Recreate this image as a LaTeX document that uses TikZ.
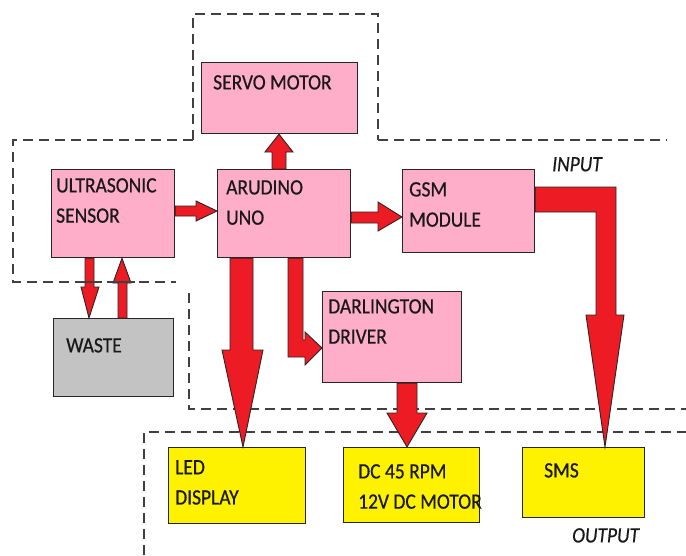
\documentclass[tikz,border=0pt]{standalone}
\usepackage{fontspec}
\setmainfont{Carlito}[FakeBold=0.6]
\definecolor{bpink}{HTML}{FFAEC9}
\definecolor{bred}{HTML}{ED1C24}
\definecolor{byel}{HTML}{FFF200}
\definecolor{bgray}{HTML}{C3C3C3}
\begin{document}
\begin{tikzpicture}[x=1pt,y=-1pt,
 blk/.style={draw=black!85, line width=1.2pt, anchor=north west, inner sep=0pt},
 lbl/.style={anchor=north west, inner sep=0pt, align=left, font=\fontsize{19.5}{27}\selectfont, text=black!90, yscale=1.12, transform shape},
 fat/.style={fill=bred, draw=black!85, line width=0.9pt, line join=miter},
 frame/.style={dash pattern=on 10pt off 6pt, line width=1.2pt, draw=black!75}]
\useasboundingbox (0,0) rectangle (686,555);

% dashed frames
\draw[frame] (193,140) -- (193,14) -- (378,14) -- (378,140);
\draw[frame] (193,140) -- (13,140) -- (13,282) -- (176,282);
\draw[frame] (378,140) -- (667,140);
\draw[frame] (189,293) -- (189,409) -- (686,409);
\draw[frame] (144,555) -- (144,432) -- (686,432);

% blocks
\node[blk, fill=bpink, minimum width=156pt, minimum height=71pt] (servo) at (201,62) {};
\node[blk, fill=bpink, minimum width=123pt, minimum height=88pt] (us) at (51,169) {};
\node[blk, fill=bpink, minimum width=133pt, minimum height=88pt] (uno) at (217,169) {};
\node[blk, fill=bpink, minimum width=132pt, minimum height=83pt] (gsm) at (402,169) {};
\node[blk, fill=bgray, minimum width=120pt, minimum height=78pt] (waste) at (53,318) {};
\node[blk, fill=bpink, minimum width=139pt, minimum height=91pt] (drv) at (322,291) {};
\node[blk, fill=byel, minimum width=137pt, minimum height=76pt] (led) at (168,447) {};
\node[blk, fill=byel, minimum width=136pt, minimum height=75pt] (dcm) at (343,447) {};
\node[blk, fill=byel, minimum width=122pt, minimum height=70pt] (sms) at (522,447) {};

% labels
\node[lbl] (tservo) at (213,75) {SERVO MOTOR};
\node[lbl] (tus) at (56,178) {ULTRASONIC\\SENSOR};
\node[lbl] (tuno) at (226,180) {ARUDINO\\UNO};
\node[lbl] (tgsm) at (409,182) {GSM\\MODULE};
\node[lbl] (twaste) at (66,338) {WASTE};
\node[lbl] (tdrv) at (328,299) {DARLINGTON\\DRIVER};
\node[lbl] (tled) at (175,460) {LED\\DISPLAY};
\node[lbl] (tdcm) at (358,464) {DC 45 RPM\\12V DC MOTOR};
\node[lbl] (tsms) at (544,463) {SMS};
\node[lbl, font=\fontsize{19.5}{27}\selectfont\itshape] (tin) at (552,157) {INPUT};
\node[lbl, font=\fontsize{19.5}{27}\selectfont\itshape] (tout) at (572,528) {OUTPUT};

% block arrows
% ultrasonic -> uno
\draw[fat] (us.east |- 0,206) -- (196,206) -- (196,201) -- (uno.west |- 0,211)
  -- (196,221) -- (196,216) -- (us.east |- 0,216) -- cycle;
% uno -> servo
\draw[fat] (272,0 |- uno.north) -- (272,152) -- (265,152) -- (279,0 |- servo.south)
  -- (293,152) -- (286,152) -- (286,0 |- uno.north) -- cycle;
% uno -> gsm
\draw[fat] (uno.east |- 0,212) -- (378,212) -- (378,202) -- (gsm.west |- 0,217)
  -- (378,231) -- (378,223) -- (uno.east |- 0,223) -- cycle;
% gsm -> sms
\draw[fat] (gsm.east |- 0,187) -- (616,187) -- (616,315) -- (624,315) -- (605,0 |- sms.north)
  -- (586,315) -- (596,315) -- (596,212) -- (gsm.east |- 0,212) -- cycle;
% uno -> led
\draw[fat] (230,0 |- uno.south) -- (230,350) -- (222,350) -- (243,0 |- led.north)
  -- (263,350) -- (253,350) -- (253,0 |- uno.south) -- cycle;
% uno -> darlington
\draw[fat] (288,0 |- uno.south) -- (288,357) -- (305,357) -- (305,365) -- (drv.west |- 0,348)
  -- (305,332) -- (305,340) -- (303,340) -- (303,0 |- uno.south) -- cycle;
% darlington -> dc motor
\draw[fat] (397,0 |- drv.south) -- (397,413) -- (387,413) -- (407,0 |- dcm.north)
  -- (427,413) -- (417,413) -- (417,0 |- drv.south) -- cycle;
% ultrasonic -> waste
\draw[fat] (85,0 |- us.south) -- (85,287) -- (81,287) -- (89,0 |- waste.north)
  -- (99,287) -- (94,287) -- (94,0 |- us.south) -- cycle;
% waste -> ultrasonic
\draw[fat] (118,0 |- waste.north) -- (118,283) -- (113,283) -- (122,0 |- us.south)
  -- (131,283) -- (127,283) -- (127,0 |- waste.north) -- cycle;

% dashed line passing over the sensor arrows
\draw[line width=1.1pt, draw=black!75] (78,282) -- (102,282) (111,282) -- (135,282);
\end{tikzpicture}
\end{document}
